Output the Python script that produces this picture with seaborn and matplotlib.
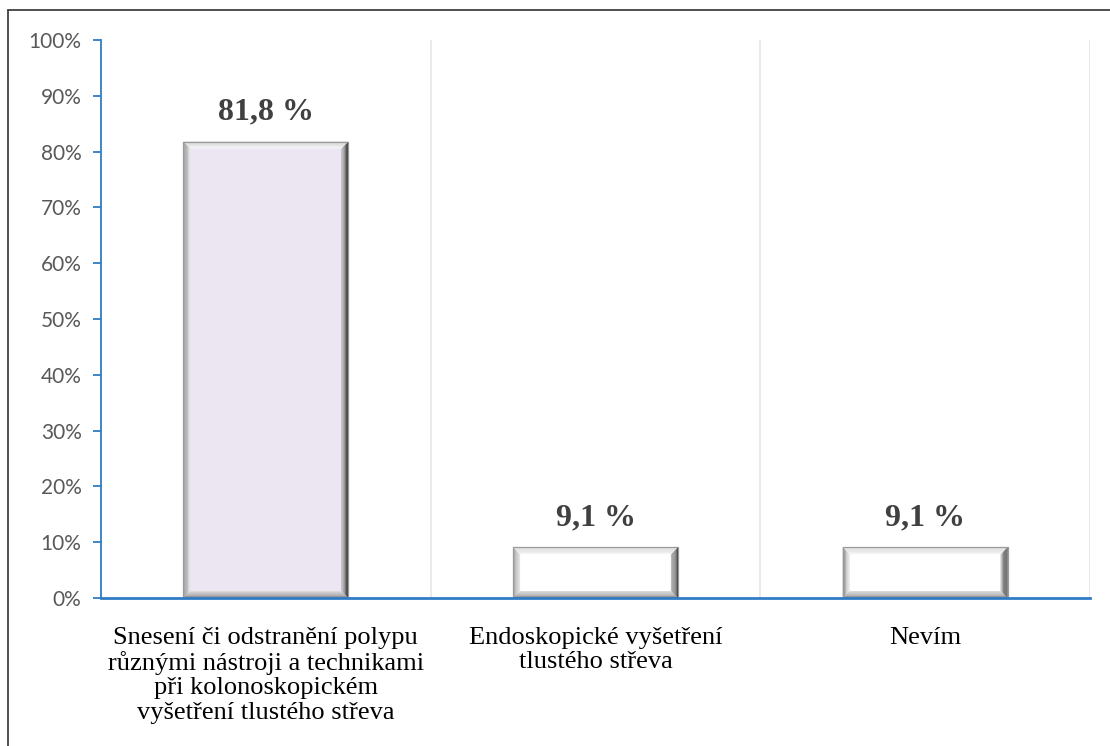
import matplotlib
matplotlib.use("Agg")
import matplotlib.pyplot as plt
import seaborn as sns
import pandas as pd
import numpy as np
from matplotlib.lines import Line2D
from matplotlib.colors import to_rgb

categories = [
    "Snesení či odstranění polypu\nrůznými nástroji a technikami\npři kolonoskopickém\nvyšetření tlustého střeva",
    "Endoskopické vyšetření\ntlustého střeva",
    "Nevím",
]
values = [81.8, 9.1, 9.1]
value_labels = ["81,8 %", "9,1 %", "9,1 %"]
bar_faces = ["#ECE6F3", "#FFFFFF", "#FFFFFF"]
yticks = [0, 10, 20, 30, 40, 50, 60, 70, 80, 90, 100]

sns.set_theme(style="white")
plt.rcParams["font.family"] = ["Lato", "DejaVu Sans"]

W, H = 1110, 746
fig = plt.figure(figsize=(W / 100, H / 100), dpi=100)
ax = fig.add_axes([101 / W, 1 - 598 / H, (1090 - 101) / W, (598 - 40) / H])

df = pd.DataFrame({"cat": categories, "val": values})
sns.barplot(data=df, x="cat", y="val", hue="cat", palette=bar_faces,
            width=0.5, legend=False, ax=ax, edgecolor="#8C8C8C", linewidth=0.8,
            saturation=1)

ax.set_xlim(-0.5, 2.5)
ax.set_ylim(0, 100)
ax.set_xlabel("")
ax.set_ylabel("")

# axis styling
axis_blue = "#2F7CC4"
for s in ["top", "right"]:
    ax.spines[s].set_visible(False)
ax.spines["left"].set_color(axis_blue)
ax.spines["left"].set_linewidth(1.3)
ax.spines["bottom"].set_color(axis_blue)
ax.spines["bottom"].set_linewidth(2.0)
ax.spines["bottom"].set_zorder(5)

ax.set_yticks(yticks)
ax.set_yticklabels([f"{t}%" for t in yticks], color="#595959", fontsize=15)
ax.tick_params(axis="y", which="major", direction="out", length=6,
               color=axis_blue, width=1.3, left=True, pad=8)
ax.tick_params(axis="x", which="major", length=0, pad=21)
ax.set_xticks(range(len(categories)))
ax.set_xticklabels(categories, fontsize=19, color="#000000",
                   family=["Liberation Serif"], linespacing=1.12)

# vertical separators between categories
ax.set_xticks([0.5, 1.5, 2.5], minor=True)
ax.tick_params(axis="x", which="minor", length=0)
ax.grid(False)
ax.xaxis.grid(True, which="minor", color="#E6E6E6", linewidth=1.2)
ax.set_axisbelow(True)

# bevelled bar frames
px_x = (ax.get_xlim()[1] - ax.get_xlim()[0]) / (1090 - 101)
px_y = (ax.get_ylim()[1] - ax.get_ylim()[0]) / (598 - 40)
bw = 7


def mix(c1, c2, t):
    a, b = np.array(to_rgb(c1)), np.array(to_rgb(c2))
    return tuple(a + (b - a) * t)


for p in list(ax.patches):
    x0, y0 = p.get_x(), p.get_y()
    w, h = p.get_width(), p.get_height()
    x1, y1 = x0 + w, y0 + h
    n = 6
    for k in range(n):
        a, b = k * bw / n, (k + 1) * bw / n
        t = k / (n - 1)
        ax0, ax1 = a * px_x, b * px_x
        ay0, ay1 = a * px_y, b * px_y
        # left
        ax.fill([x0 + ax0, x0 + ax1, x0 + ax1, x0 + ax0],
                [y0 + ay0, y0 + ay1, y1 - ay1, y1 - ay0],
                color=mix("#8E8E8E", "#E4E4E4", t), lw=0, zorder=3)
        # right
        ax.fill([x1 - ax0, x1 - ax1, x1 - ax1, x1 - ax0],
                [y0 + ay0, y0 + ay1, y1 - ay1, y1 - ay0],
                color=mix("#3C3C3C", "#B8B8B8", t), lw=0, zorder=3)
        # bottom
        ax.fill([x0 + ax0, x1 - ax0, x1 - ax1, x0 + ax1],
                [y0 + ay0, y0 + ay0, y0 + ay1, y0 + ay1],
                color=mix("#7A7A7A", "#D8D8D8", t), lw=0, zorder=3)
        # top
        ax.fill([x0 + ax0, x1 - ax0, x1 - ax1, x0 + ax1],
                [y1 - ay0, y1 - ay0, y1 - ay1, y1 - ay1],
                color=mix("#D0D0D0", "#F6F6F6", t), lw=0, zorder=3)
    ax.add_patch(plt.Rectangle((x0, y0), w, h, fill=False,
                               edgecolor="#9A9A9A", lw=0.8, zorder=4))

# value labels above the bars
for p, lab in zip(ax.patches[:len(values)], value_labels):
    cx = p.get_x() + p.get_width() / 2
    ax.annotate(lab, (cx, p.get_height()), xytext=(0, 21), textcoords="offset points",
                ha="center", va="center", fontsize=23, fontweight="bold",
                color="#404040", family=["Liberation Serif"])

# outer chart frame
fig.add_artist(Line2D([8 / W, 8 / W], [0, 1 - 10 / H], transform=fig.transFigure,
                      color="#404040", lw=1.3))
fig.add_artist(Line2D([8 / W, 1], [1 - 10 / H, 1 - 10 / H], transform=fig.transFigure,
                      color="#404040", lw=1.3))

fig.savefig("out.png", dpi=100)
